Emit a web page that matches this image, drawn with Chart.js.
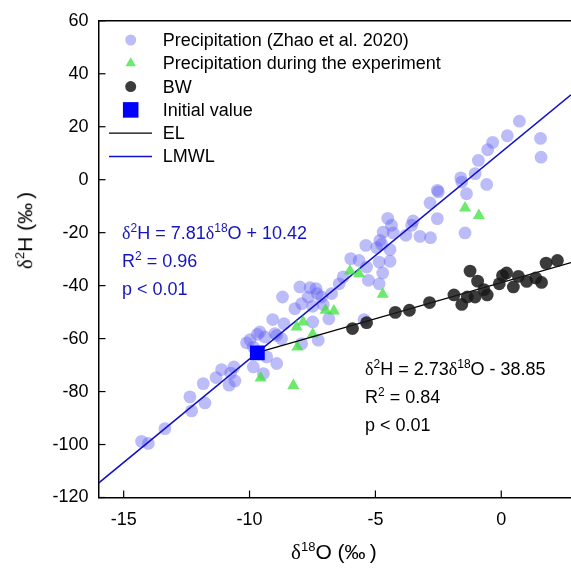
<!DOCTYPE html>
<html>
<head>
<meta charset="utf-8">
<script src="https://cdn.jsdelivr.net/npm/chart.js@4.4.0/dist/chart.umd.min.js"></script>
<style>
html, body { margin: 0; padding: 0; background: #fff; }
#wrap { position: relative; width: 571px; height: 572px; font-family: "Liberation Sans", Arial, sans-serif; }
#chart { position: absolute; left: 0; top: 0; }
.txt { position: absolute; font-size: 18px; line-height: 26px; white-space: nowrap; color: #000; }
.txt sup, .ttl sup { font-size: 12px; vertical-align: 0; position: relative; top: -7px; }
.d { font-family: "Liberation Serif", "Times New Roman", serif; }
.ttl { position: absolute; font-size: 21px; white-space: nowrap; color: #000; }
.ttl sup { font-size: 13px; top: -8px; }
</style>
</head>
<body>
<div id="wrap">
  <canvas id="chart" width="571" height="572"></canvas>
  <div class="txt" style="left:122px;top:220px;color:#1515bb;">
    <span class="d">δ</span><sup>2</sup>H = 7.81<span class="d">δ</span><sup>18</sup>O + 10.42<br>
    R<sup>2</sup> = 0.96<br>p &lt; 0.01
  </div>
  <div class="txt" style="left:365px;top:356px;">
    <span class="d">δ</span><sup>2</sup>H = 2.73<span class="d">δ</span><sup>18</sup>O - 38.85<br>
    R<sup>2</sup> = 0.84<br>p &lt; 0.01
  </div>
  <div class="ttl" id="xtitle" style="left:291px;top:540px;"><span class="d">δ</span><sup>18</sup>O (‰&#8201;)</div>
  <div class="ttl" id="ytitle" style="left:-13px;top:218px;transform:rotate(-90deg);"><span class="d">δ</span><sup>2</sup>H (‰&#8201;)</div>
</div>
<script>
// ---- data ----
const xTicks = [-15, -10, -5, 0];
const yTicks = [-120, -100, -80, -60, -40, -20, 0, 20, 40, 60];

// Precipitation (Zhao et al. 2020)
const precipO = [0.72, 0.24, -0.34, -0.54, -0.91, -1.04, -1.61, -1.57, -1.38, -0.58, 1.56, 1.58,
  -2.54, -2.50, -2.83, -2.54, -1.44, -3.50, -3.56, -4.51, -4.36, -4.69, -4.29, -3.79, -3.23, -2.81,
  -4.82, -5.38, -4.95,
  -5.98, -5.65, -5.35, -4.85, -4.42, -4.71, -4.85, -5.28, -6.28, -6.44, -8.00, -7.60, -7.36, -7.31,
  -7.14, -7.67, -8.69, -8.20, -7.93, -7.49, -6.85, -7.49, -8.63, -8.99, -9.08, -9.59, -9.69, -9.39,
  -8.92, -10.12, -9.85, -7.93, -7.27, -9.32, -8.92, -9.85, -9.45, -10.62, -10.75, -11.11, -11.33,
  -10.81, -10.58, -11.84, -12.37, -11.77, -12.30, -4.75, -4.42,
  -14.29, -14.02, -13.36, -5.45, -9.98, -6.74, -7.07, -8.73];
const precipH = [22.1, 16.6, 14.1, 11.3, 7.3, 2.3, 0.7, -0.9, -5.3, -1.8, 15.6, 8.5,
  -4.0, -4.6, -8.8, -14.7, -20.1, -15.6, -17.2, -14.6, -17.2, -19.8, -20.1, -21.0, -21.4, -21.9,
  -22.9, -24.8, -25.7,
  -29.8, -30.5, -33.0, -31.1, -30.8, -35.2, -39.3, -38.0, -36.7, -39.3, -40.5, -40.8, -41.1, -43.0,
  -44.3, -44.3, -44.3, -48.7, -46.8, -47.8, -52.5, -53.7, -54.4, -58.1, -52.8, -57.5, -58.4, -59.4,
  -58.8, -61.6, -63.2, -61.9, -60.6, -66.9, -69.4, -70.7, -73.2, -70.7, -73.0, -71.7, -74.7,
  -77.6, -76.0, -77.0, -82.0, -84.3, -87.3, -24.4, -26.4,
  -98.8, -99.6, -94.0, -52.8, -60.4, -43.0, -47.1, -60.0];

// Precipitation during the experiment
const expO = [-6.01, -5.65, -4.71, -6.98, -6.65, -7.87, -8.13, -7.49, -8.10, -9.56, -8.26, -1.44, -0.89];
const expH = [-34.5, -35.5, -43.3, -49.3, -49.6, -53.7, -55.6, -58.4, -63.2, -74.9, -77.7, -10.7, -13.5];

// BW
const bwO = [-5.91, -5.35, -4.21, -3.65, -2.85, -1.88, -1.57, -1.35, -1.24, -1.04, -0.94, -0.69, -0.56,
  -0.08, 0.05, 0.21, 0.48, 0.68, 1.01, 1.37, 1.60, 1.78, 2.23];
const bwH = [-56.2, -54.0, -50.1, -49.3, -46.4, -43.5, -47.1, -44.3, -34.5, -44.3, -38.3, -41.5, -43.5,
  -39.3, -36.2, -35.2, -40.5, -36.5, -38.4, -37.1, -38.8, -31.5, -30.5];

// Initial value
const initO = [-9.69];
const initH = [-65.4];

// fitted lines: slope, intercept, x range
const lmwl = { slope: 7.81, icpt: 10.42, from: -16, to: 2.77 };
const el = { slope: 2.73, icpt: -38.85, from: -9.69, to: 2.77 };

const pts = (xs, ys) => xs.map((v, i) => ({ x: v, y: ys[i] }));
const linePts = l => [l.from, l.to].map(v => ({ x: v, y: l.slope * v + l.icpt }));

const blueFill = 'rgba(95,95,240,0.42)';
const greenFill = 'rgba(60,225,60,0.75)';
const blackFill = 'rgba(25,25,25,0.85)';
const lineBlue = '#1010c8';
const font = { family: '"Liberation Sans", Arial, sans-serif', size: 18 };

// top frame line + inward tick marks
const framePlugin = {
    id: 'frame',
    afterDraw(chart) {
        const { ctx, chartArea: a, scales: { x, y } } = chart;
        ctx.save();
        ctx.strokeStyle = '#000';
        ctx.lineWidth = 1.5;
        ctx.beginPath();
        ctx.moveTo(a.left, a.top);
        ctx.lineTo(a.right, a.top);
        ctx.stroke();
        ctx.lineWidth = 1.2;
        x.ticks.forEach(t => {
            const px = x.getPixelForValue(t.value);
            ctx.beginPath(); ctx.moveTo(px, a.bottom); ctx.lineTo(px, a.bottom - 7); ctx.stroke();
        });
        y.ticks.forEach(t => {
            const py = y.getPixelForValue(t.value);
            ctx.beginPath(); ctx.moveTo(a.left, py); ctx.lineTo(a.left + 7, py); ctx.stroke();
        });
        ctx.restore();
    }
};

// legend drawn inside the plot
const legendItems = [
    { label: 'Precipitation (Zhao et al. 2020)', style: 'circle', color: blueFill, r: 5.5 },
    { label: 'Precipitation during the experiment', style: 'triangle', color: greenFill, r: 6 },
    { label: 'BW', style: 'circle', color: blackFill, r: 5.5 },
    { label: 'Initial value', style: 'rect', color: '#0000ff', r: 11 },
    { label: 'EL', line: '#000', w: 1.2 },
    { label: 'LMWL', line: lineBlue, w: 1.6 }
];
const legendPlugin = {
    id: 'insideLegend',
    afterDraw(chart) {
        const ctx = chart.ctx;
        ctx.save();
        ctx.font = '18px "Liberation Sans", Arial, sans-serif';
        ctx.textBaseline = 'middle';
        legendItems.forEach((it, i) => {
            const cy = 40 + i * 23.3;
            if (it.line) {
                ctx.strokeStyle = it.line;
                ctx.lineWidth = it.w;
                ctx.beginPath(); ctx.moveTo(109, cy); ctx.lineTo(152, cy); ctx.stroke();
            } else {
                ctx.fillStyle = it.color;
                ctx.strokeStyle = 'rgba(0,0,0,0)';
                Chart.helpers.drawPoint(ctx, { pointStyle: it.style, radius: it.r, rotation: 0, borderWidth: 0 }, 130.7, cy);
            }
            ctx.fillStyle = '#000';
            ctx.fillText(it.label, 162.7, cy + 1);
        });
        ctx.restore();
    }
};

new Chart(document.getElementById('chart'), {
    type: 'scatter',
    data: {
        datasets: [
            { label: 'Precipitation (Zhao et al. 2020)', data: pts(precipO, precipH), pointStyle: 'circle',
              pointRadius: 6.4, backgroundColor: blueFill, borderWidth: 0, order: 6 },
            { label: 'LMWL', type: 'line', data: linePts(lmwl), borderColor: lineBlue, borderWidth: 1.6,
              pointRadius: 0, fill: false, order: 5 },
            { label: 'Precipitation during the experiment', data: pts(expO, expH), pointStyle: 'triangle',
              pointRadius: 7, backgroundColor: greenFill, borderWidth: 0, order: 4 },
            { label: 'EL', type: 'line', data: linePts(el), borderColor: '#000', borderWidth: 1.2,
              pointRadius: 0, fill: false, order: 3 },
            { label: 'BW', data: pts(bwO, bwH), pointStyle: 'circle', pointRadius: 6.4,
              backgroundColor: blackFill, borderWidth: 0, order: 2 },
            { label: 'Initial value', data: pts(initO, initH), pointStyle: 'rect', pointRadius: 10.5,
              backgroundColor: '#0000ff', borderWidth: 0, order: 1 }
        ]
    },
    options: {
        responsive: false,
        animation: false,
        layout: { autoPadding: false, padding: { top: 20, right: 0, left: 0, bottom: 0 } },
        plugins: { legend: { display: false }, tooltip: { enabled: false } },
        scales: {
            x: {
                type: 'linear', min: -16, max: 2.77,
                afterBuildTicks: s => { s.ticks = xTicks.map(v => ({ value: v })); },
                afterFit: s => { s.height = 74.5; },
                grid: { drawOnChartArea: false, drawTicks: false },
                border: { display: true, color: '#000', width: 1.5 },
                ticks: { font, color: '#000', padding: 12, maxRotation: 0 }
            },
            y: {
                type: 'linear', min: -120, max: 60,
                afterBuildTicks: s => { s.ticks = yTicks.map(v => ({ value: v })); },
                afterFit: s => { s.width = 98.5; },
                grid: { drawOnChartArea: false, drawTicks: false },
                border: { display: true, color: '#000', width: 1.5 },
                ticks: { font, color: '#000', padding: 10 }
            }
        }
    },
    plugins: [framePlugin, legendPlugin]
});
</script>
</body>
</html>
